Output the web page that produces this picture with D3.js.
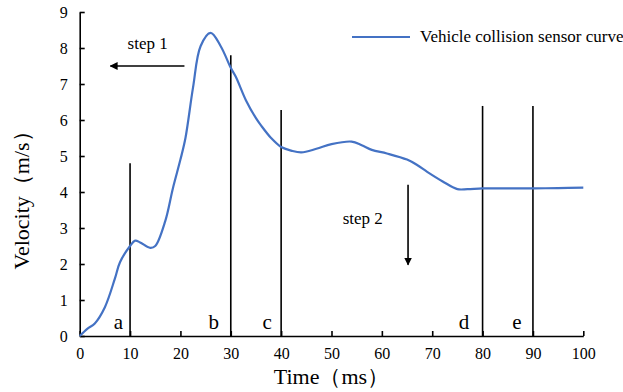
<!DOCTYPE html>
<html>
<head>
<meta charset="utf-8">
<script src="https://cdn.jsdelivr.net/npm/d3@7"></script>
<style>
  body { margin: 0; background: #fff; }
  svg text { font-family: "Liberation Serif", Tinos, "Times New Roman", "DejaVu Serif", serif !important; fill: #000; }
</style>
</head>
<body>
<div id="chart"></div>
<script>
// sensor curve
var times = [0, 1.5, 3, 5, 7, 8, 10, 11, 12, 14, 15, 17, 18.5, 20, 21, 22.5, 24, 26, 28, 30, 31, 33, 35, 36, 38, 40, 42, 44, 47, 50, 54, 56, 58, 61, 65, 67, 69, 72, 75, 77, 80, 85, 90, 95, 100];
var velocity = [0, 0.2, 0.35, 0.8, 1.6, 2.05, 2.5, 2.65, 2.6, 2.45, 2.5, 3.2, 4.1, 4.9, 5.5, 6.9, 8.05, 8.42, 8.05, 7.45, 7.2, 6.55, 6.05, 5.85, 5.5, 5.25, 5.15, 5.1, 5.2, 5.33, 5.4, 5.3, 5.17, 5.07, 4.9, 4.75, 4.56, 4.3, 4.08, 4.08, 4.1, 4.1, 4.1, 4.11, 4.12];

// vertical stage markers
var markerX = [10, 30, 40, 80, 90];
var markerTop = [4.8, 7.8, 6.28, 6.39, 6.39];
var markerLabels = ["a", "b", "c", "d", "e"];
var labelX = [7.7, 26.6, 37.2, 76.3, 86.8];

var xTicks = [0, 10, 20, 30, 40, 50, 60, 70, 80, 90, 100];
var yTicks = [0, 1, 2, 3, 4, 5, 6, 7, 8, 9];

var width = 623, height = 392;
var margin = {left: 79.7, right: 40, top: 12, bottom: 56};

var svg = d3.select("#chart").append("svg")
    .attr("width", width)
    .attr("height", height);

var x = d3.scaleLinear().domain([0, 100]).range([margin.left, 583.3]);
var y = d3.scaleLinear().domain([0, 9]).range([336, margin.top]);

// axes, ticks point inward
var xAxis = svg.append("g")
    .attr("transform", "translate(0," + y(0) + ")")
    .call(d3.axisBottom(x).tickValues(xTicks).tickSizeInner(-5).tickSizeOuter(0).tickPadding(12));
var yAxis = svg.append("g")
    .attr("transform", "translate(" + x(0) + ",0)")
    .call(d3.axisLeft(y).tickValues(yTicks).tickSizeInner(-5).tickSizeOuter(0).tickPadding(12));

[xAxis, yAxis].forEach(function(g) {
  g.attr("font-family", null).attr("font-size", null);
  g.select(".domain").attr("stroke", "#000").attr("stroke-width", 1.6);
  g.selectAll(".tick line").attr("stroke", "#000").attr("stroke-width", 1.6);
  g.selectAll(".tick text")
    .style("font-size", "16px")
    .attr("fill", "#000");
});

// markers
svg.selectAll(".marker")
  .data(markerX)
  .enter().append("line")
    .attr("class", "marker")
    .attr("x1", function(d) { return x(d); })
    .attr("x2", function(d) { return x(d); })
    .attr("y1", y(0))
    .attr("y2", function(d, i) { return y(markerTop[i]); })
    .attr("stroke", "#000")
    .attr("stroke-width", 1.6);

svg.selectAll(".mlabel")
  .data(markerLabels)
  .enter().append("text")
    .attr("class", "mlabel")
    .attr("x", function(d, i) { return x(labelX[i]); })
    .attr("y", y(0) - 7)
    .attr("text-anchor", "middle")
    .style("font-size", "21px")
    .text(function(d) { return d; });

// curve
var line = d3.line()
    .x(function(d) { return x(d[0]); })
    .y(function(d) { return y(d[1]); })
    .curve(d3.curveCatmullRom.alpha(0.5));

svg.append("path")
    .datum(d3.zip(times, velocity))
    .attr("fill", "none")
    .attr("stroke", "#4472C4")
    .attr("stroke-width", 2.2)
    .attr("stroke-linejoin", "round")
    .attr("d", line);

// arrows
svg.append("defs").append("marker")
    .attr("id", "head")
    .attr("viewBox", "0 0 10 10")
    .attr("refX", 9).attr("refY", 5)
    .attr("markerWidth", 8).attr("markerHeight", 8)
    .attr("markerUnits", "userSpaceOnUse")
    .attr("orient", "auto")
  .append("path")
    .attr("d", "M0,0L10,5L0,10Z")
    .attr("fill", "#000");

svg.append("line")
    .attr("x1", x(20.8)).attr("x2", x(6.1))
    .attr("y1", y(7.5)).attr("y2", y(7.5))
    .attr("stroke", "#000").attr("stroke-width", 1.6)
    .attr("marker-end", "url(#head)");
svg.append("text")
    .attr("x", x(13.5)).attr("y", 49)
    .attr("text-anchor", "middle")
    .style("font-size", "17px")
    .text("step 1");

svg.append("line")
    .attr("x1", x(65.2)).attr("x2", x(65.2))
    .attr("y1", y(4.2)).attr("y2", y(1.98))
    .attr("stroke", "#000").attr("stroke-width", 1.6)
    .attr("marker-end", "url(#head)");
svg.append("text")
    .attr("x", x(56.2)).attr("y", 224)
    .attr("text-anchor", "middle")
    .style("font-size", "17px")
    .text("step 2");

// legend
svg.append("line")
    .attr("x1", 352).attr("x2", 410)
    .attr("y1", 37).attr("y2", 37)
    .attr("stroke", "#4472C4")
    .attr("stroke-width", 2.2);
svg.append("text")
    .attr("x", 420).attr("y", 42)
    .style("font-size", "17px")
    .text("Vehicle collision sensor curve");

// axis titles
svg.append("text")
    .attr("x", x(50)).attr("y", 384)
    .attr("text-anchor", "middle")
    .style("font-size", "22px")
    .text("Time（ms）");
svg.append("text")
    .attr("transform", "translate(29,195) rotate(-90)")
    .attr("text-anchor", "middle")
    .style("font-size", "22px")
    .text("Velocity（m/s）");
</script>
</body>
</html>
